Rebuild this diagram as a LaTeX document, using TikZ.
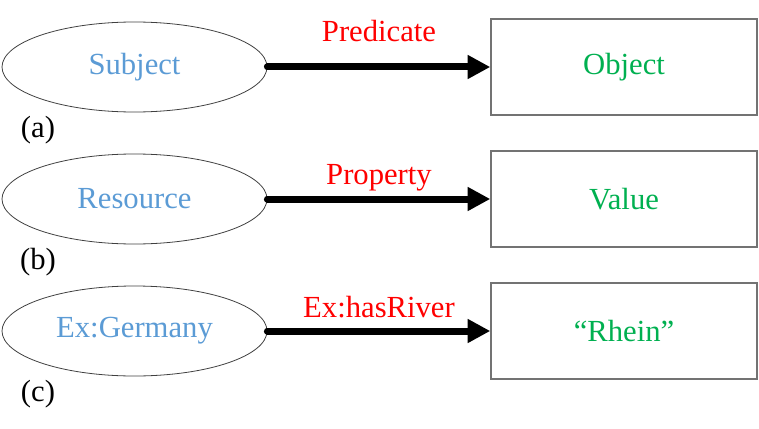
\documentclass[tikz,border=0pt]{standalone}
\usepackage{fontspec}
\setmainfont{Liberation Serif}
\usetikzlibrary{shapes.geometric,arrows.meta}
\definecolor{subjblue}{HTML}{5B9BD5}
\definecolor{objgreen}{HTML}{00B050}
\definecolor{predred}{HTML}{FF0000}
\tikzset{
    subj/.style={ellipse, draw=black!75, line width=0.6pt, minimum width=198.75pt,
        minimum height=67.5pt, text=subjblue, font=\fontsize{23}{27}\selectfont},
    obj/.style={rectangle, draw=black!55, line width=1.1pt, minimum width=199.5pt,
        minimum height=72pt, text=objgreen, font=\fontsize{23}{27}\selectfont},
    pred/.style={anchor=base, inner sep=0pt, text=predred, font=\fontsize{23}{27}\selectfont},
    tag/.style={inner sep=0pt, font=\fontsize{23}{27}\selectfont},
    link/.style={line width=5.25pt, line cap=round, -{Triangle[length=17pt,width=17pt]}}
}
\begin{document}
\begin{tikzpicture}[x=0.75pt,y=-0.75pt]
    \useasboundingbox (0,0) rectangle (759,428);

    % one row per triple: subject, predicate, object
    \foreach \row/\ypos/\sname/\pname/\oname/\up in {a/67/Subject/Predicate/Object/25,
            b/199/Resource/Property/Value/15,
            c/331/Ex:Germany/Ex:hasRiver/“Rhein”/14} {
        \node[subj] (s\row) at (134.5,\ypos) {\sname};
        \node[obj] (o\row) at (624,\ypos) {\oname};
        \draw[link] (s\row) -- (o\row);
        \node[pred] (p\row) at (379,\ypos-\up) {\pname};
        \node[tag] (t\row) at (38,\ypos+63) {(\row)};
    }

\end{tikzpicture}
\end{document}
